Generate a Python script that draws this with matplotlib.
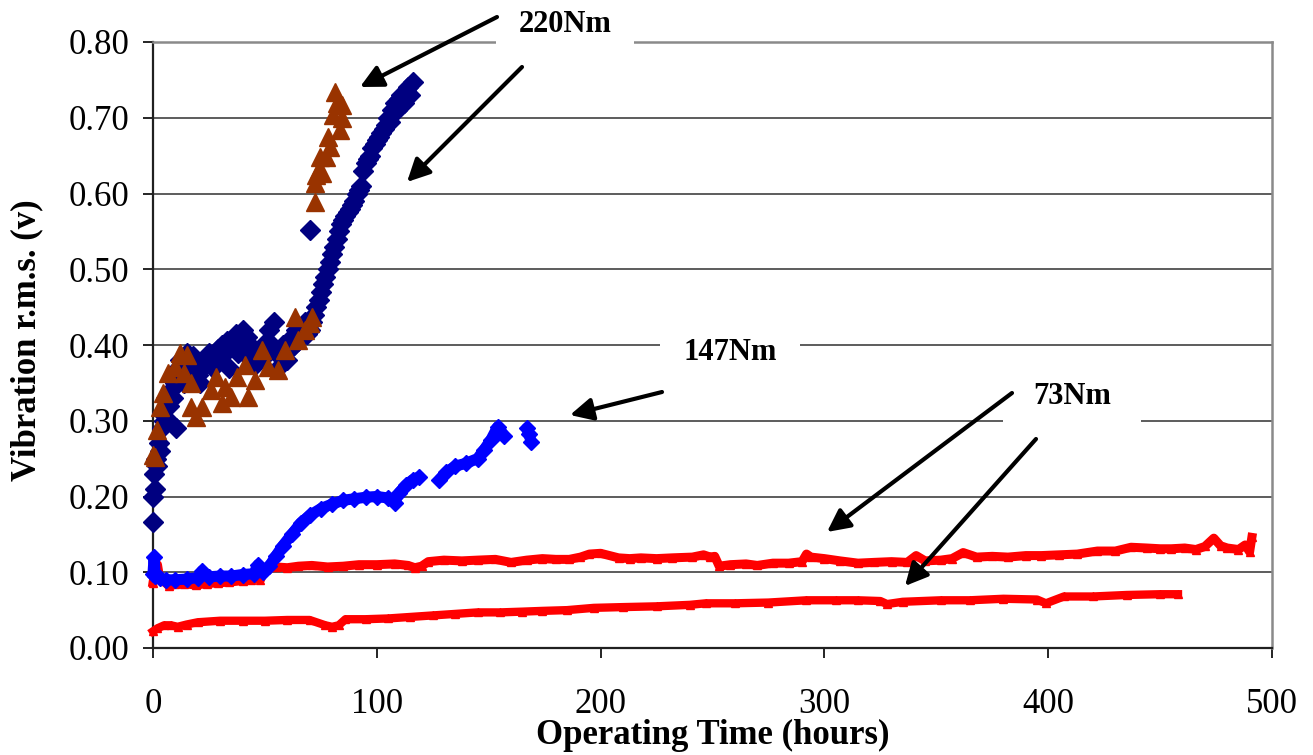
import numpy as np
import matplotlib
matplotlib.use("Agg")
import matplotlib.pyplot as plt

plt.rcParams['font.family'] = ['Liberation Serif', 'DejaVu Serif']

# ---------------- data ----------------
x_ticks = [0, 100, 200, 300, 400, 500]
y_ticks = [0.0, 0.1, 0.2, 0.3, 0.4, 0.5, 0.6, 0.7, 0.8]

# 73Nm, upper band (red triangles)
red_up_x = [0, 1, 2, 3, 5, 7, 10, 14, 19, 24,
            29, 34, 40, 44, 47, 48, 50, 55, 60, 65,
            71, 78, 85, 92, 100, 108, 114, 117, 120, 123,
            130, 138, 145, 153, 160, 167, 174, 180, 186, 191,
            195, 200, 208, 213, 218, 225, 232, 241, 246, 249,
            251, 253, 258, 265, 270, 277, 284, 290, 292, 294,
            300, 307, 315, 322, 330, 337, 341, 345, 352, 357,
            362, 368, 375, 382, 390, 397, 405, 413, 422, 430,
            437, 444, 450, 455, 461, 466, 470, 474, 477, 480,
            485, 488, 490, 491]
red_up_y = [0.086, 0.105, 0.110, 0.092, 0.088, 0.082, 0.084, 0.085, 0.083, 0.085,
            0.086, 0.087, 0.089, 0.090, 0.092, 0.090, 0.104, 0.107, 0.106, 0.108,
            0.109, 0.107, 0.108, 0.110, 0.110, 0.111, 0.109, 0.106, 0.108, 0.114,
            0.116, 0.115, 0.116, 0.117, 0.113, 0.116, 0.118, 0.117, 0.117, 0.120,
            0.124, 0.125, 0.119, 0.118, 0.119, 0.118, 0.119, 0.120, 0.123, 0.120,
            0.121, 0.108, 0.110, 0.111, 0.109, 0.112, 0.112, 0.114, 0.124, 0.120,
            0.118, 0.115, 0.112, 0.113, 0.114, 0.113, 0.122, 0.115, 0.116, 0.118,
            0.126, 0.120, 0.121, 0.120, 0.122, 0.122, 0.123, 0.124, 0.128, 0.128,
            0.133, 0.132, 0.131, 0.131, 0.132, 0.130, 0.134, 0.145, 0.135, 0.132,
            0.130, 0.136, 0.127, 0.146]

# 73Nm, lower band (red)
red_lo_x = [0, 2, 5, 8, 11, 15, 20, 30, 40, 50,
            60, 70, 77, 80, 83, 86, 95, 105, 115, 125,
            135, 145, 155, 165, 174, 185, 197, 210, 225, 240,
            247, 260, 275, 292, 305, 315, 325, 328, 335, 352,
            365, 380, 395, 399, 407, 420, 435, 450, 458]
red_lo_y = [0.022, 0.026, 0.030, 0.030, 0.028, 0.031, 0.034, 0.036, 0.036, 0.036,
            0.037, 0.037, 0.030, 0.028, 0.030, 0.038, 0.038, 0.039, 0.041, 0.043,
            0.045, 0.047, 0.047, 0.048, 0.049, 0.050, 0.053, 0.054, 0.055, 0.057,
            0.059, 0.059, 0.060, 0.063, 0.063, 0.063, 0.062, 0.058, 0.061, 0.063,
            0.063, 0.065, 0.064, 0.059, 0.068, 0.068, 0.070, 0.071, 0.071]

# 147Nm (blue diamonds); NaN marks gaps in the record
blue_x = [0, 0.5, 1, 3, 6, 10, 15, 20, 22, 25,
          30, 35, 40, 45, 47, 49, 52, 55, 58, 62,
          66, 70, 75, 80, 85, 90, 95, 100, 105, 108,
          110, 113, 116, 119, np.nan, 128, 131, 135, 140, 145,
          148, 151, 154, 157, np.nan, 167, 168, 169]
blue_y = [0.098, 0.120, 0.095, 0.092, 0.090, 0.090, 0.091, 0.093, 0.102, 0.094,
          0.095, 0.095, 0.097, 0.098, 0.110, 0.100, 0.108, 0.122, 0.135, 0.150,
          0.165, 0.175, 0.184, 0.190, 0.195, 0.197, 0.199, 0.200, 0.198, 0.192,
          0.205, 0.215, 0.222, 0.226, np.nan, 0.222, 0.232, 0.240, 0.244, 0.250,
          0.262, 0.275, 0.292, 0.280, np.nan, 0.290, 0.282, 0.272]

# 220Nm (navy diamonds)
navy_x = [0, 0, 0.5, 1, 1.5, 2, 2.5, 3, 4, 4, 5, 6, 7, 7, 8, 9, 10, 10.5, 11, 12,
          13, 14, 15, 16, 17, 18, 19, 20, 21, 22, 23, 24, 25, 26, 27, 28, 29, 30,
          31, 32, 33, 34, 35, 36, 37, 38, 39, 40, 41, 42, 43, 44, 45, 46, 47, 48,
          49, 50, 51, 52, 53, 54, 55, 56, 57, 58, 59, 60, 61, 62, 63, 64, 65, 66,
          67, 68, 69, 70, 70, 71, 72, 73, 74, 75, 76, 77, 78, 79, 80, 81, 82, 83,
          84, 85, 86, 87, 88, 89, 90, 91, 92, 93, 94, 95, 96, 97, 98, 99, 100,
          101, 102, 103, 104, 105, 106, 107, 108, 109, 110, 111, 112, 113, 114,
          115, 116]
navy_y = [0.166, 0.200, 0.230, 0.210, 0.250, 0.240, 0.270, 0.260, 0.290, 0.310,
          0.300, 0.330, 0.320, 0.300, 0.340, 0.330, 0.350, 0.290, 0.370, 0.380,
          0.370, 0.350, 0.390, 0.380, 0.360, 0.385, 0.370, 0.360, 0.350, 0.370,
          0.375, 0.380, 0.390, 0.380, 0.370, 0.385, 0.395, 0.380, 0.400, 0.390,
          0.405, 0.370, 0.400, 0.410, 0.415, 0.390, 0.400, 0.420, 0.405, 0.410,
          0.390, 0.380, 0.395, 0.375, 0.380, 0.390, 0.400, 0.385, 0.395, 0.420,
          0.400, 0.430, 0.390, 0.370, 0.385, 0.400, 0.390, 0.380, 0.395, 0.410,
          0.400, 0.420, 0.405, 0.410, 0.420, 0.430, 0.415, 0.420, 0.552, 0.430,
          0.440, 0.450, 0.460, 0.470, 0.480, 0.490, 0.500, 0.510, 0.520, 0.530,
          0.540, 0.550, 0.560, 0.565, 0.570, 0.575, 0.580, 0.585, 0.590, 0.600,
          0.605, 0.610, 0.630, 0.640, 0.645, 0.650, 0.660, 0.665, 0.670, 0.675,
          0.680, 0.685, 0.690, 0.700, 0.695, 0.710, 0.720, 0.710, 0.725, 0.730,
          0.720, 0.735, 0.740, 0.730, 0.747]

# 220Nm (brown triangles)
brown_x = [0, 1, 2, 3, 4.5, 6.7, 10, 12, 14, 15, 17, 17, 19, 22, 26, 28, 31, 32,
           35, 37.5, 41, 42.5, 45.5, 48.5, 51.5, 56, 59, 63.5, 65, 68, 70, 71,
           72.5, 72.5, 73, 74, 74.5, 75.5, 77.5, 78, 79, 80.5, 81.3, 82, 83.5,
           84.5, 84.5]
brown_y = [0.255, 0.252, 0.288, 0.318, 0.337, 0.363, 0.371, 0.389, 0.363, 0.387,
           0.350, 0.318, 0.305, 0.318, 0.340, 0.358, 0.323, 0.345, 0.331, 0.358,
           0.374, 0.331, 0.354, 0.393, 0.371, 0.367, 0.393, 0.437, 0.406, 0.420,
           0.429, 0.437, 0.589, 0.614, 0.625, 0.631, 0.648, 0.627, 0.648, 0.675,
           0.662, 0.704, 0.734, 0.720, 0.684, 0.717, 0.700]

labels = ['220Nm', '147Nm', '73Nm']

# ---------------- figure ----------------
W, H = 1313, 755
fig = plt.figure(figsize=(W / 100, H / 100), dpi=100)
L, R, T, B = 153, 1272, 42, 648
ax = fig.add_axes([L / W, 1 - B / H, (R - L) / W, (B - T) / H])

ax.set_xlim(0, 500)
ax.set_ylim(0, 0.8)
ax.set_xticks(x_ticks)
ax.set_yticks(y_ticks)
ax.set_yticklabels([f"{v:.2f}" for v in y_ticks])
ax.tick_params(axis='both', direction='out', length=7, width=1.2,
               labelsize=25, colors='black')
ax.tick_params(axis='x', pad=22)
ax.tick_params(axis='y', pad=10)

ax.set_axisbelow(True)
ax.yaxis.grid(True, color='#303030', lw=1.1)
ax.xaxis.grid(False)
for s in ['left', 'bottom']:
    ax.spines[s].set_color('#202020')
    ax.spines[s].set_linewidth(1.6)
for s in ['right', 'top']:
    ax.spines[s].set_color('#8a8a8a')
    ax.spines[s].set_linewidth(1.8)

red = '#FF0000'
# red bands
ax.plot(red_up_x, red_up_y, color=red, lw=6.5, marker='^', ms=6,
        mec=red, mfc=red, clip_on=False, zorder=3, solid_joinstyle='round')
ax.plot(red_lo_x, red_lo_y, color=red, lw=6, marker='^', ms=5.5,
        mec=red, mfc=red, clip_on=False, zorder=3, solid_joinstyle='round')
# 147Nm
ax.plot(blue_x, blue_y, color='#0000FF', lw=8, marker='D', ms=8.5,
        mec='#0000FF', mfc='#0000FF', clip_on=False, zorder=4,
        solid_joinstyle='round', solid_capstyle='round')
# 220Nm
ax.plot(navy_x, navy_y, ls='none', marker='D', ms=10.5, color='#000080',
        mec='#000080', clip_on=False, zorder=5)
ax.plot(brown_x, brown_y, ls='none', marker='^', ms=12.5, color='#993300',
        mec='#993300', clip_on=False, zorder=6)

# axis labels
ax.set_xlabel('Operating Time (hours)', fontsize=25, fontweight='bold', va='center')
ax.xaxis.set_label_coords(0.5, (B - 735) / (B - T))
ax.set_ylabel('Vibration r.m.s. (v)', fontsize=25, fontweight='bold', va='center')
ax.yaxis.set_label_coords((27 - L) / (R - L), (B - 340) / (B - T))


def px2data(px, py):
    return ((px - L) / (R - L) * 500, (B - py) / (B - T) * 0.8)


# annotation labels with white boxes
for text, (px, py), pad in [(labels[0], (565, 25), 0.75),
                            (labels[1], (730, 352), 0.75),
                            (labels[2], (1072, 397), 1.0)]:
    xd, yd = px2data(px, py)
    ax.text(xd, yd, text, fontsize=22, fontweight='bold', ha='center', va='center',
            zorder=7, clip_on=False,
            bbox=dict(boxstyle=f'square,pad={pad}', fc='white', ec='none'))

# arrows (tail -> tip), pixel positions converted to data
arrows_px = [((497, 17), (360, 87)),
             ((522, 67), (407, 182)),
             ((662, 392), (570, 415)),
             ((1012, 393), (827, 532)),
             ((1036, 439), (905, 586))]
for tail, tip in arrows_px:
    ax.annotate('', xy=px2data(*tip), xytext=px2data(*tail),
                annotation_clip=False, zorder=8,
                arrowprops=dict(arrowstyle='-|>', color='black', lw=3,
                                mutation_scale=34, shrinkA=0, shrinkB=0))

fig.savefig('out.png', dpi=100)
